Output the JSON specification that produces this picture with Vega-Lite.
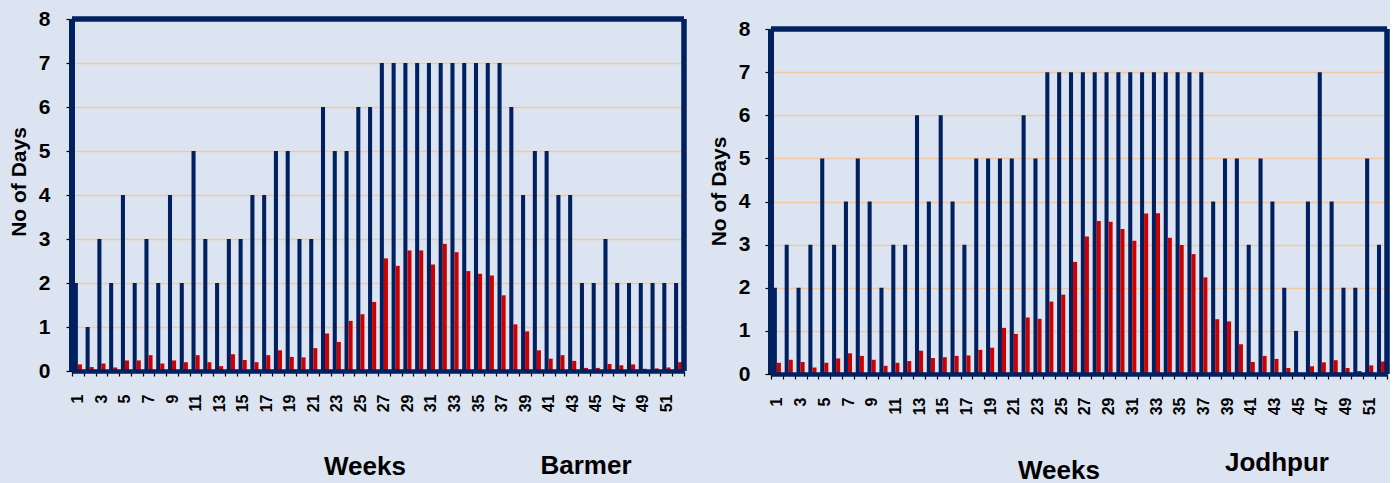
{
  "$schema": "https://vega.github.io/schema/vega-lite/v6.json",
  "background": "#dbe4f0",
  "padding": {"left": 8, "top": 8, "right": 0, "bottom": 0},
  "bounds": "flush",
  "spacing": 87,
  "config": {
    "view": {"stroke": null},
    "font": "Liberation Sans",
    "axis": {"labelFont": "Liberation Sans", "labelFontWeight": "bold", "labelColor": "#000000", "titleFont": "Liberation Sans", "titleFontWeight": "bold", "titleColor": "#000000"},
    "title": {"font": "Liberation Sans", "fontWeight": "bold", "color": "#000000"}
  },
  "datasets": {
    "barmer": [
      {"w":1,"a":2,"b":0.15},{"w":2,"a":1,"b":0.09},{"w":3,"a":3,"b":0.17},{"w":4,"a":2,"b":0.08},
      {"w":5,"a":4,"b":0.24},{"w":6,"a":2,"b":0.24},{"w":7,"a":3,"b":0.36},{"w":8,"a":2,"b":0.17},
      {"w":9,"a":4,"b":0.24},{"w":10,"a":2,"b":0.2},{"w":11,"a":5,"b":0.36},{"w":12,"a":3,"b":0.2},
      {"w":13,"a":2,"b":0.11},{"w":14,"a":3,"b":0.38},{"w":15,"a":3,"b":0.25},{"w":16,"a":4,"b":0.2},
      {"w":17,"a":4,"b":0.36},{"w":18,"a":5,"b":0.47},{"w":19,"a":5,"b":0.32},{"w":20,"a":3,"b":0.31},
      {"w":21,"a":3,"b":0.52},{"w":22,"a":6,"b":0.85},{"w":23,"a":5,"b":0.66},{"w":24,"a":5,"b":1.14},
      {"w":25,"a":6,"b":1.29},{"w":26,"a":6,"b":1.57},{"w":27,"a":7,"b":2.56},{"w":28,"a":7,"b":2.39},
      {"w":29,"a":7,"b":2.74},{"w":30,"a":7,"b":2.74},{"w":31,"a":7,"b":2.42},{"w":32,"a":7,"b":2.89},
      {"w":33,"a":7,"b":2.7},{"w":34,"a":7,"b":2.27},{"w":35,"a":7,"b":2.21},{"w":36,"a":7,"b":2.17},
      {"w":37,"a":7,"b":1.72},{"w":38,"a":6,"b":1.06},{"w":39,"a":4,"b":0.9},{"w":40,"a":5,"b":0.47},
      {"w":41,"a":5,"b":0.28},{"w":42,"a":4,"b":0.36},{"w":43,"a":4,"b":0.23},{"w":44,"a":2,"b":0.07},
      {"w":45,"a":2,"b":0.07},{"w":46,"a":3,"b":0.16},{"w":47,"a":2,"b":0.13},{"w":48,"a":2,"b":0.15},
      {"w":49,"a":2,"b":0.05},{"w":50,"a":2,"b":0.06},{"w":51,"a":2,"b":0.08},{"w":52,"a":2,"b":0.2}
    ],
    "jodhpur": [
      {"w":1,"a":2,"b":0.26},{"w":2,"a":3,"b":0.33},{"w":3,"a":2,"b":0.28},{"w":4,"a":3,"b":0.15},
      {"w":5,"a":5,"b":0.26},{"w":6,"a":3,"b":0.36},{"w":7,"a":4,"b":0.48},{"w":8,"a":5,"b":0.42},
      {"w":9,"a":4,"b":0.33},{"w":10,"a":2,"b":0.19},{"w":11,"a":3,"b":0.26},{"w":12,"a":3,"b":0.3},
      {"w":13,"a":6,"b":0.54},{"w":14,"a":4,"b":0.37},{"w":15,"a":6,"b":0.39},{"w":16,"a":4,"b":0.42},
      {"w":17,"a":3,"b":0.43},{"w":18,"a":5,"b":0.56},{"w":19,"a":5,"b":0.61},{"w":20,"a":5,"b":1.07},
      {"w":21,"a":5,"b":0.93},{"w":22,"a":6,"b":1.31},{"w":23,"a":5,"b":1.28},{"w":24,"a":7,"b":1.68},
      {"w":25,"a":7,"b":1.84},{"w":26,"a":7,"b":2.6},{"w":27,"a":7,"b":3.19},{"w":28,"a":7,"b":3.55},
      {"w":29,"a":7,"b":3.53},{"w":30,"a":7,"b":3.36},{"w":31,"a":7,"b":3.09},{"w":32,"a":7,"b":3.72},
      {"w":33,"a":7,"b":3.73},{"w":34,"a":7,"b":3.16},{"w":35,"a":7,"b":2.99},{"w":36,"a":7,"b":2.78},
      {"w":37,"a":7,"b":2.24},{"w":38,"a":4,"b":1.27},{"w":39,"a":5,"b":1.22},{"w":40,"a":5,"b":0.69},
      {"w":41,"a":3,"b":0.28},{"w":42,"a":5,"b":0.42},{"w":43,"a":4,"b":0.35},{"w":44,"a":2,"b":0.14},
      {"w":45,"a":1,"b":0.03},{"w":46,"a":4,"b":0.18},{"w":47,"a":7,"b":0.27},{"w":48,"a":4,"b":0.32},
      {"w":49,"a":2,"b":0.14},{"w":50,"a":2,"b":0.07},{"w":51,"a":5,"b":0.2},{"w":52,"a":3,"b":0.29}
    ]
  },
  "hconcat": [
    {
      "width": 612,
      "height": 352,
      "title": {"text": "Barmer", "orient": "bottom", "anchor": "middle", "dx": 208, "dy": -5, "fontSize": 26, "offset": 0, "baseline": "alphabetic"},
      "layer": [
        {
          "data": {"name": "barmer"},
          "transform": [{"fold": ["a", "b"]}],
          "mark": {"type": "bar"},
          "encoding": {
            "x": {
              "field": "w", "type": "ordinal",
              "scale": {"paddingInner": 0, "paddingOuter": 0},
              "axis": {
                "title": "Weeks", "titleFontSize": 26, "titleX": 292.5, "titleY": 103, "titleBaseline": "alphabetic", "titleAlign": "center",
                "labelAngle": -90, "labelFontSize": 16, "labelPadding": 18,
                "labelExpr": "datum.value % 2 == 1 ? datum.label : ''", "labelOverlap": false,
                "tickBand": "extent", "tickSize": 5, "tickColor": "#000000", "tickWidth": 1.2,
                "domainColor": "#002060", "domainWidth": 4.5, "grid": false, "zindex": 1
              }
            },
            "xOffset": {"field": "key", "type": "nominal", "scale": {"paddingInner": 0, "paddingOuter": 0.45}},
            "y": {
              "field": "value", "type": "quantitative",
              "scale": {"domain": [0, 8], "nice": false},
              "axis": {
                "values": [0, 1, 2, 3, 4, 5, 6, 7, 8], "grid": true, "gridColor": "#f2c8a2", "gridWidth": 1.5,
                "domain": false, "tickSize": 6, "tickColor": "#000000", "tickWidth": 1.2,
                "labelFontSize": 21, "labelPadding": 16,
                "title": "No  of Days", "titleFontSize": 21, "titleX": -47, "titleY": 162.5, "titleAngle": 270,
                "titleBaseline": "alphabetic", "titleAlign": "center"
              }
            },
            "color": {"field": "key", "type": "nominal", "scale": {"domain": ["a", "b"], "range": ["#002060", "#cc0000"]}, "legend": null}
          }
        },
        {
          "data": {"values": [{}]},
          "mark": {"type": "rule", "color": "#002060", "strokeWidth": 5.5},
          "encoding": {"y": {"datum": 8}}
        },
        {
          "data": {"values": [{}]},
          "mark": {"type": "rule", "color": "#002060", "strokeWidth": 6},
          "encoding": {"x": {"datum": 1, "type": "ordinal", "bandPosition": 0}, "y": {"datum": 0}, "y2": {"datum": 8}}
        },
        {
          "data": {"values": [{}]},
          "mark": {"type": "rule", "color": "#002060", "strokeWidth": 5.5},
          "encoding": {"x": {"datum": 52, "type": "ordinal", "bandPosition": 1}, "y": {"datum": 0}, "y2": {"datum": 8}}
        }
      ]
    },
    {
      "width": 616,
      "height": 355,
      "title": {"text": "Jodhpur", "orient": "bottom", "anchor": "middle", "dx": 198, "dy": -12, "fontSize": 26, "offset": 0, "baseline": "alphabetic"},
      "layer": [
        {
          "data": {"name": "jodhpur"},
          "transform": [{"fold": ["a", "b"]}],
          "mark": {"type": "bar"},
          "encoding": {
            "x": {
              "field": "w", "type": "ordinal",
              "scale": {"paddingInner": 0, "paddingOuter": 0},
              "axis": {
                "title": "Weeks", "titleFontSize": 26, "titleX": 287.5, "titleY": 104, "titleBaseline": "alphabetic", "titleAlign": "center",
                "labelAngle": -90, "labelFontSize": 16, "labelPadding": 18,
                "labelExpr": "datum.value % 2 == 1 ? datum.label : ''", "labelOverlap": false,
                "tickBand": "extent", "tickSize": 5, "tickColor": "#000000", "tickWidth": 1.2,
                "domainColor": "#002060", "domainWidth": 4.5, "grid": false, "zindex": 1
              }
            },
            "xOffset": {"field": "key", "type": "nominal", "scale": {"paddingInner": 0, "paddingOuter": 0.45}},
            "y": {
              "field": "value", "type": "quantitative",
              "scale": {"domain": [0, 8.232], "nice": false},
              "axis": {
                "values": [0, 1, 2, 3, 4, 5, 6, 7, 8], "grid": true, "gridColor": "#f2c8a2", "gridWidth": 1.5,
                "domain": false, "tickSize": 6, "tickColor": "#000000", "tickWidth": 1.2,
                "labelFontSize": 21, "labelPadding": 15,
                "title": "No  of Days", "titleFontSize": 21, "titleX": -46, "titleY": 172, "titleAngle": 270,
                "titleBaseline": "alphabetic", "titleAlign": "center"
              }
            },
            "color": {"field": "key", "type": "nominal", "scale": {"domain": ["a", "b"], "range": ["#002060", "#cc0000"]}, "legend": null}
          }
        },
        {
          "data": {"values": [{}]},
          "mark": {"type": "rule", "color": "#002060", "strokeWidth": 5.5},
          "encoding": {"y": {"datum": 8}}
        },
        {
          "data": {"values": [{}]},
          "mark": {"type": "rule", "color": "#002060", "strokeWidth": 6},
          "encoding": {"x": {"datum": 1, "type": "ordinal", "bandPosition": 0}, "y": {"datum": 0}, "y2": {"datum": 8}}
        },
        {
          "data": {"values": [{}]},
          "mark": {"type": "rule", "color": "#002060", "strokeWidth": 5.5},
          "encoding": {"x": {"datum": 52, "type": "ordinal", "bandPosition": 1}, "y": {"datum": 0}, "y2": {"datum": 8}}
        }
      ]
    }
  ]
}
